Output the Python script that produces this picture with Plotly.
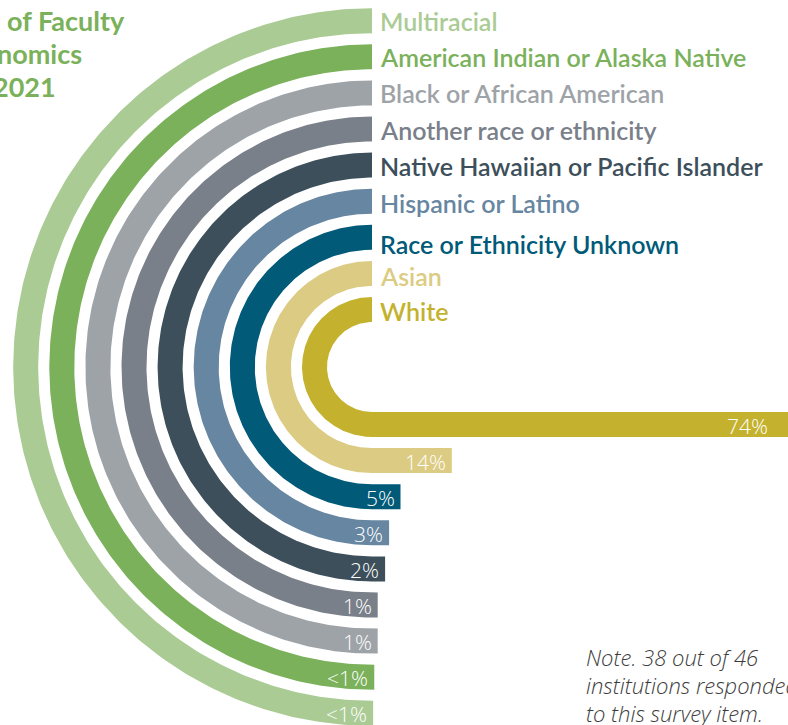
import numpy as np
import plotly.graph_objects as go

# ---- data (outermost band first) ----
categories = [
    "Multiracial",
    "American Indian or Alaska Native",
    "Black or African American",
    "Another race or ethnicity",
    "Native Hawaiian or Pacific Islander",
    "Hispanic or Latino",
    "Race or Ethnicity Unknown",
    "Asian",
    "White",
]
values = [0.2, 0.4, 1.0, 1.0, 2.3, 3.0, 5.0, 14.0, 74.0]
value_labels = ["<1%", "<1%", "1%", "1%", "2%", "3%", "5%", "14%", "74%"]
colors = ["#abcb95", "#7ab15a", "#9ea3a8", "#7a8089", "#3c4f5a",
          "#6686a1", "#005a78", "#dccb82", "#c4b22f"]

title_lines = ["of Faculty", "nomics", "2021"]
note_lines = ["Note. 38 out of 46", "institutions responded", "to this survey item."]

# ---- geometry / layout (pixel-like data space) ----
W, H = 788, 725
cx, cy = 372, 367
inner_outer_r = 70      # outer radius of innermost band
step = 36.1
thick = 25
k = 5.7                 # px per percent
label_dy = [-1, -1, -1, 0, 0, 1, 6, 2, 0]   # small nudges of category labels
title_right = [127, 84, 58]

fig = go.Figure()
n = len(categories)
phi = np.linspace(-np.pi / 2, np.pi / 2, 240)
for i, (cat, v, col) in enumerate(zip(categories, values, colors)):
    R = inner_outer_r + step * (n - 1 - i)
    r = R - thick
    xend = cx + v * k
    xo = cx - R * np.cos(phi)
    yo = cy + R * np.sin(phi)
    xi = (cx - r * np.cos(phi))[::-1]
    yi = (cy + r * np.sin(phi))[::-1]
    xs = np.concatenate([xo, [xend, xend], xi, [xo[0]]])
    ys = np.concatenate([yo, [cy + R, cy + r], yi, [yo[0]]])
    fig.add_trace(go.Scatter(x=xs, y=ys, mode="lines", fill="toself",
                             fillcolor=col, line=dict(width=0, color=col),
                             hoverinfo="skip", showlegend=False))
    # category label at top end of the arc
    fig.add_annotation(x=cx + 6, y=cy - (R + r) / 2 + 1 + label_dy[i], text=cat,
                       showarrow=False, xanchor="left", yanchor="middle",
                       font=dict(family="Lato", size=25, color=col, weight=600))
    # value label inside bar end (kept inside the visible canvas)
    lx = min(xend, W - 14) - 4
    fig.add_annotation(x=lx, y=cy + (R + r) / 2 + 1, text=value_labels[i],
                       showarrow=False, xanchor="right", yanchor="middle",
                       font=dict(family="Open Sans", size=21, color="white", weight=300))

for j, t in enumerate(title_lines):
    fig.add_annotation(xref="paper", yref="paper", x=title_right[j] / W,
                       y=1 - (21 + 32.5 * j) / H, text=t, showarrow=False,
                       xanchor="right", yanchor="middle",
                       font=dict(family="Lato", size=27, color="#7ab15a", weight=700))

for j, t in enumerate(note_lines):
    fig.add_annotation(xref="paper", yref="paper", x=584 / W,
                       y=1 - (657 + 28 * j) / H, text=t, showarrow=False,
                       xanchor="left", yanchor="middle",
                       font=dict(family="Open Sans", size=22, color="#3d3d3d",
                                 style="italic", weight=300))

fig.update_layout(
    width=W, height=H, margin=dict(l=0, r=0, t=0, b=0),
    paper_bgcolor="white", plot_bgcolor="white",
    xaxis=dict(range=[0, W], visible=False, fixedrange=True),
    yaxis=dict(range=[H, 0], visible=False, fixedrange=True),
)
fig.write_html("out.html", config={"displayModeBar": False},
               post_script="document.body.style.margin='0';document.body.style.overflow='hidden';")
